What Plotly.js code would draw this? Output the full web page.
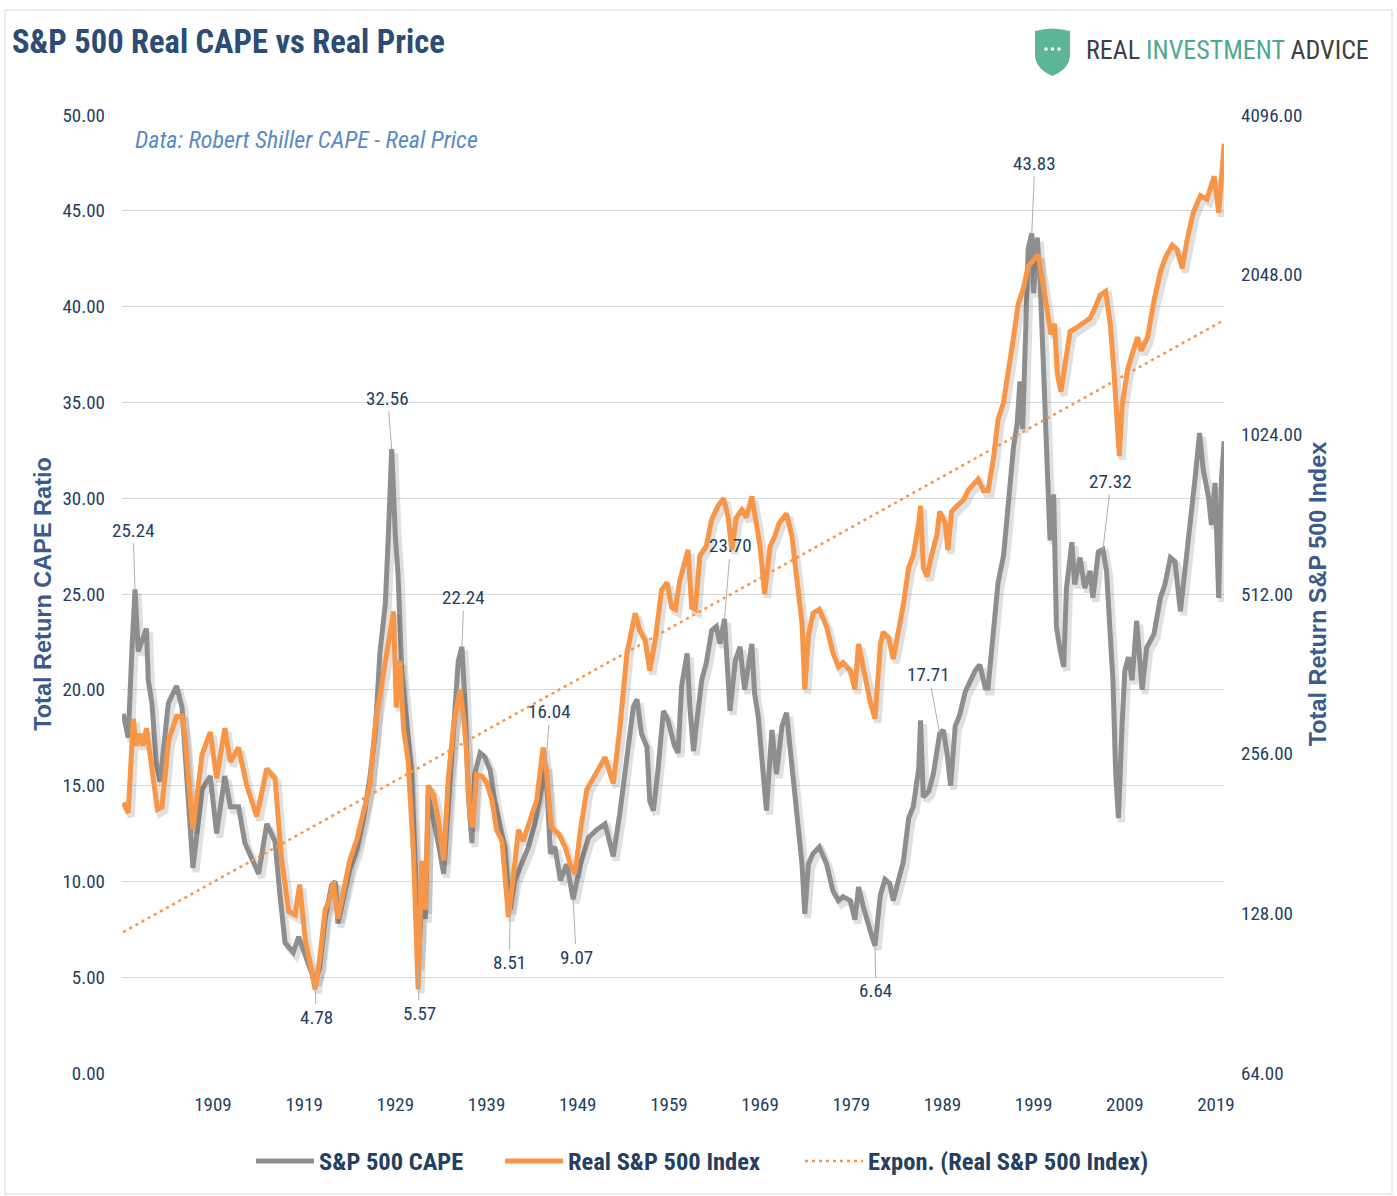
<!DOCTYPE html>
<html><head><meta charset="utf-8">
<script src="https://cdn.plot.ly/plotly-3.0.1.min.js"></script>
<style>html,body{margin:0;padding:0;background:#fff}#chart{width:1397px;height:1196px}</style>
</head><body><div id="chart"></div>
<script>
// ---- DATA ----
const capeYears = [1899.16,1899.7,1900.1,1900.45,1900.8,1901.2,1901.7,1901.9,1902.3,1902.8,1903.2,1904.1,1905.0,1905.6,1906.1,1906.8,1907.8,1908.7,1909.4,1910.3,1910.9,1911.8,1912.5,1914.0,1914.9,1915.8,1916.3,1916.9,1917.8,1918.4,1919.6,1920.2,1920.7,1921.3,1922.0,1922.4,1922.7,1923.3,1924.0,1924.8,1925.5,1926.2,1926.8,1927.3,1927.9,1928.2,1928.6,1929.0,1929.3,1929.7,1930.2,1930.8,1931.2,1931.5,1931.9,1932.3,1932.6,1933.2,1933.7,1934.3,1934.8,1935.4,1935.9,1936.3,1936.6,1937.0,1937.4,1937.7,1938.3,1938.8,1939.4,1939.9,1940.5,1941.0,1941.4,1941.6,1942.1,1942.9,1943.6,1944.3,1945.0,1945.5,1946.0,1946.5,1947.1,1947.8,1948.5,1949.3,1950.2,1951.1,1952.0,1952.9,1953.6,1954.4,1955.1,1955.5,1956.0,1956.6,1956.9,1957.3,1957.8,1958.4,1958.9,1959.6,1960.0,1960.4,1961.0,1961.3,1961.7,1962.0,1962.6,1963.1,1963.7,1964.2,1964.6,1965.1,1965.7,1966.3,1966.8,1967.3,1968.1,1968.4,1968.8,1969.4,1969.7,1970.3,1970.8,1971.4,1971.9,1972.5,1973.0,1973.6,1973.9,1974.3,1974.8,1975.5,1976.3,1977.0,1977.6,1978.1,1978.9,1979.4,1979.8,1980.3,1981.1,1981.6,1982.2,1982.7,1983.2,1983.6,1984.2,1984.7,1985.3,1985.8,1986.4,1986.6,1986.9,1987.5,1988.0,1988.7,1989.1,1989.5,1989.9,1990.4,1990.9,1991.5,1992.0,1992.6,1993.1,1993.7,1994.0,1994.6,1995.1,1995.7,1996.2,1996.8,1997.2,1997.5,1997.8,1998.1,1998.4,1998.8,1999.0,1999.4,1999.7,2000.1,2000.4,2000.8,2001.2,2001.5,2001.9,2002.3,2002.6,2003.2,2003.5,2004.1,2004.6,2005.2,2005.5,2006.1,2006.6,2007.0,2007.4,2007.7,2008.0,2008.3,2008.7,2009.0,2009.4,2009.8,2010.3,2010.9,2011.4,2012.2,2012.9,2013.4,2014.0,2014.5,2015.1,2015.6,2016.2,2016.7,2017.2,2017.6,2018.2,2018.5,2018.9,2019.3,2019.6,2019.9];
const capeValues = [18.75,17.5,22.0,25.24,22.0,22.5,23.2,20.5,19.3,16.1,15.2,19.3,20.2,19.1,15.2,10.7,14.8,15.5,12.5,15.5,13.9,13.9,12.0,10.4,13.0,12.1,9.5,6.8,6.3,7.1,5.5,4.78,5.5,8.05,9.8,10.0,7.8,9.1,10.6,11.7,13.25,15.4,17.8,21.9,24.5,27.7,32.56,28.0,26.0,21.0,18.4,15.6,10.6,5.57,9.1,8.05,14.5,13.25,12.0,10.4,14.1,18.4,21.5,22.24,19.7,14.5,12.0,15.6,16.7,16.5,15.8,14.2,12.8,11.8,9.4,8.51,10.05,10.9,11.8,13.0,14.8,16.04,11.45,11.8,10.05,10.9,9.07,10.9,12.3,12.7,13.0,11.3,13.5,16.7,19.1,19.5,17.7,17.0,14.2,13.7,15.8,18.9,18.4,17.1,16.7,20.2,21.9,19.1,16.8,18.1,20.5,21.4,23.1,23.3,22.4,23.7,18.9,21.55,22.25,20.0,22.4,19.8,18.6,15.3,13.7,17.9,15.6,18.1,18.8,16.0,13.5,10.9,8.3,10.9,11.45,11.8,10.9,9.5,9.0,9.2,9.0,8.0,9.7,8.7,7.4,6.64,9.3,10.1,9.9,9.0,10.1,11.0,13.3,13.9,15.9,18.4,14.4,14.7,15.6,17.71,17.9,16.7,15.0,18.1,18.7,19.9,20.4,21.0,21.3,20.1,20.1,23.3,25.6,27.0,29.6,32.7,33.9,36.1,33.6,39.6,43.0,43.83,40.7,43.6,41.5,36.6,32.1,27.8,30.2,23.3,22.1,21.2,25.3,27.7,25.5,26.9,25.3,26.2,24.8,27.2,27.32,26.2,22.9,20.5,15.7,13.3,18.1,21.0,21.7,20.5,23.6,20.0,22.2,22.9,24.8,25.5,26.9,26.7,24.1,26.2,28.6,31.0,33.4,31.5,30.0,28.6,30.8,24.8,31.0,32.97];

const priceYears = [1899.16,1899.7,1900.26,1900.6,1901.0,1901.3,1901.7,1902.1,1902.6,1902.9,1903.4,1904.1,1905.0,1905.6,1905.9,1906.8,1907.8,1908.7,1909.4,1910.3,1910.9,1911.8,1912.7,1913.8,1914.9,1915.8,1916.5,1917.3,1918.0,1918.5,1919.1,1919.6,1920.2,1920.7,1921.3,1921.8,1922.2,1922.7,1923.3,1924.0,1924.8,1925.5,1926.2,1926.8,1927.5,1928.1,1928.8,1929.1,1929.5,1929.9,1930.4,1931.0,1931.5,1931.9,1932.3,1932.6,1933.2,1933.7,1934.3,1934.8,1935.4,1936.1,1936.5,1936.8,1937.2,1937.5,1937.9,1938.5,1939.0,1939.6,1940.1,1940.7,1941.0,1941.4,1941.9,1942.5,1943.0,1943.8,1944.5,1945.2,1945.6,1946.1,1946.9,1947.6,1948.2,1948.7,1949.3,1950.0,1950.9,1952.0,1952.9,1953.6,1954.4,1955.3,1955.8,1956.4,1956.9,1957.5,1958.2,1958.8,1959.3,1959.7,1960.2,1960.8,1961.1,1961.5,1961.9,1962.4,1963.1,1963.7,1964.4,1965.0,1965.5,1965.9,1966.4,1967.0,1967.5,1968.1,1968.6,1969.0,1969.5,1970.1,1970.6,1971.1,1971.9,1972.5,1973.0,1973.6,1973.9,1974.3,1974.8,1975.5,1976.3,1977.0,1977.6,1978.1,1978.9,1979.4,1979.8,1980.3,1981.1,1981.6,1982.2,1982.5,1983.1,1983.6,1984.2,1984.7,1985.3,1985.8,1986.4,1986.6,1986.9,1987.3,1987.8,1988.4,1988.7,1989.3,1989.6,1990.0,1990.6,1991.3,1991.8,1992.4,1992.9,1993.5,1994.0,1994.6,1995.1,1995.7,1996.2,1996.8,1997.3,1997.9,1998.4,1999.0,1999.5,2000.1,2000.6,2000.9,2001.3,2001.6,2002.0,2002.4,2003.0,2003.7,2004.4,2005.2,2005.7,2006.3,2006.9,2007.4,2007.8,2008.2,2008.4,2008.7,2009.3,2009.8,2010.4,2010.8,2011.5,2012.2,2012.9,2013.4,2014.2,2014.7,2015.3,2015.8,2016.5,2017.3,2018.0,2018.8,2019.3,2019.7,2019.9];
const priceValues = [207,198,298,265,279,265,286,255,219,201,203,270,301,301,279,184,255,281,230,286,247,263,223,195,240,230,163,129,127,145,115,105,92,105,130,136,147,125,142,161,177,197,223,291,343,396,475,313,383,286,248,164,92,161,130,223,214,193,161,230,291,338,298,257,193,186,234,232,226,209,184,175,152,126,148,184,175,192,209,263,234,186,181,171,158,152,184,219,234,252,225,284,396,471,437,419,367,419,521,538,483,479,543,595,620,483,479,605,630,708,751,776,714,620,714,738,714,782,697,630,512,630,657,697,726,657,552,452,338,426,471,479,444,396,373,380,367,338,412,373,319,298,412,434,423,386,434,487,575,605,697,751,575,552,605,663,732,697,620,732,751,770,802,823,843,802,802,924,1091,1176,1322,1561,1798,1937,2123,2177,2232,1937,1725,1580,1654,1333,1232,1355,1600,1627,1654,1696,1768,1874,1905,1654,1355,1073,932,1157,1355,1448,1561,1472,1561,1828,2071,2195,2327,2288,2106,2366,2680,2888,2841,3139,2680,3272,3616];

// Exponential trend line of the real index: values at the first and last date
const trendValues = [118, 1682];

const xTickYears = [1909,1919,1929,1939,1949,1959,1969,1979,1989,1999,2009,2019];
const rightTickValues = [64,128,256,512,1024,2048,4096];

// Labelled CAPE extremes
const labelYears  = [1900.45,1928.6,1936.3,1945.5,1965.1,1998.8,2019.9,2006.6,1988.7,1981.6,1948.5,1941.6,1931.5,1920.2];
const labelValues = [25.24,32.56,22.24,16.04,23.70,43.83,32.97,27.32,17.71,6.64,9.07,8.51,5.57,4.78];

// ---- STYLE ----
const labelOffsets = [[-2,-59],[-4,-51],[2,-49],[4,-54],[6,-73],[3,-70],[-3,-69],[8,-68],[-11,-59],[1,45],[3,58],[-1,53],[1,47],[1,36]];
const NARROW = '"Liberation Sans Narrow", "Arial Narrow", "Roboto Condensed", sans-serif';
const NAVY = '#243F60';
const GRAY = '#8E8E8E';
const ORANGE = '#F79646';
const SHADOW = 'rgba(60,60,60,0.16)';

const L = 122, R = 173, T = 115, B = 123, W = 1397, H = 1196;
const PW = W - L - R, PH = H - T - B;
const px = x => (x - L) / PW;
const py = y => (H - B - y) / PH;
// soft drop-shadow offset (about 3 px right, 4 px down)
const dxYears = 3 * (2019.88 - 1899.02) / PW;
const dyCape = 4 * 50 / PH;
const dyPriceFactor = Math.pow(2, -4 * 6 / PH);

const traces = [
  {x: capeYears.map(v => v + dxYears), y: capeValues.map(v => v - dyCape), type: 'scatter', mode: 'lines',
   showlegend: false, hoverinfo: 'skip', line: {color: SHADOW, width: 7}, yaxis: 'y'},
  {x: capeYears, y: capeValues, type: 'scatter', mode: 'lines', name: 'S&P 500 CAPE', legend: 'legend',
   line: {color: GRAY, width: 5}, yaxis: 'y'},
  {x: priceYears.map(v => v + dxYears), y: priceValues.map(v => v * dyPriceFactor), type: 'scatter', mode: 'lines',
   showlegend: false, hoverinfo: 'skip', line: {color: SHADOW, width: 7}, yaxis: 'y2'},
  {x: priceYears, y: priceValues, type: 'scatter', mode: 'lines', name: 'Real S&P 500 Index', legend: 'legend2',
   line: {color: ORANGE, width: 5}, yaxis: 'y2'},
  {x: [priceYears[0], priceYears[priceYears.length - 1]], y: trendValues, type: 'scatter', mode: 'lines',
   name: 'Expon. (Real S&P 500 Index)', legend: 'legend3', line: {color: ORANGE, width: 2.5, dash: '3px,4px'}, yaxis: 'y2'}
];

const annotations = labelYears.map((yr, i) => ({
  x: yr, y: labelValues[i], xref: 'x', yref: 'y',
  text: labelValues[i].toFixed(2), showarrow: true, arrowhead: 0, arrowwidth: 1,
  arrowcolor: '#B0B0B0', ax: labelOffsets[i][0], ay: labelOffsets[i][1], standoff: 0,
  font: {family: NARROW, size: 19, color: NAVY}
}));
annotations.push({
  xref: 'paper', yref: 'paper', x: px(133), y: py(140), xanchor: 'left', yanchor: 'middle',
  text: '<i>Data: Robert Shiller CAPE - Real Price</i>', showarrow: false,
  font: {family: NARROW, size: 24, color: '#5A8AC6'}
});
annotations.push({
  xref: 'paper', yref: 'paper', x: px(1084), y: py(50), xanchor: 'left', yanchor: 'middle',
  text: 'REAL <span style="color:#4DAA8E">INVESTMENT</span> ADVICE', showarrow: false,
  font: {family: NARROW, size: 26, color: '#404040'}
});

const shapes = [
  {type: 'rect', xref: 'paper', yref: 'paper', x0: px(5), x1: px(1392), y0: py(1194), y1: py(10),
   line: {color: '#D9D9D9', width: 1}, fillcolor: 'rgba(0,0,0,0)', layer: 'below'},
  {type: 'path', xref: 'paper', yref: 'paper',
   path: `M ${px(1035)},${py(31)} Q ${px(1052.5)},${py(26)} ${px(1070)},${py(31)} L ${px(1070)},${py(56)} Q ${px(1069)},${py(69)} ${px(1052.5)},${py(76)} Q ${px(1036)},${py(69)} ${px(1035)},${py(56)} Z`,
   fillcolor: '#5DB796', line: {width: 0}}
];
[1046, 1052.5, 1059].forEach(cx => shapes.push({type: 'circle', xref: 'paper', yref: 'paper',
  x0: px(cx - 1.8), x1: px(cx + 1.8), y0: py(49 + 1.8), y1: py(49 - 1.8), fillcolor: '#FFFFFF', line: {width: 0}}));

const axisTitleFont = {family: '"Liberation Sans", Arial, sans-serif', size: 23.5, color: '#3A5B8C', weight: 'bold'};
const legendBase = {orientation: 'h', xanchor: 'left', y: py(1161), yanchor: 'middle',
  font: {family: NARROW, size: 24.5, color: NAVY, weight: 'bold'}, itemwidth: 58, bgcolor: 'rgba(0,0,0,0)'};

const layout = {
  width: W, height: H,
  margin: {l: L, r: R, t: T, b: B},
  paper_bgcolor: '#FFFFFF', plot_bgcolor: '#FFFFFF',
  showlegend: true,
  hovermode: false,
  title: {text: 'S&P 500 Real CAPE vs Real Price', x: 12 / W, xanchor: 'left', xref: 'container',
          y: 1 - 42 / H, yanchor: 'middle', yref: 'container',
          font: {family: NARROW, size: 32.5, color: '#2B4C74', weight: 'bold'}},
  xaxis: {range: [1899.02, 2019.88], tickvals: xTickYears, ticktext: xTickYears.map(String),
          showgrid: false, zeroline: false, showline: false, ticks: '', ticklabelstandoff: 18,
          tickfont: {family: NARROW, size: 19, color: NAVY}},
  yaxis: {range: [0, 50], dtick: 5, tick0: 0, tickformat: '.2f', showgrid: true, gridcolor: '#D9D9D9', gridwidth: 1,
          zeroline: false, showline: false, ticks: '', ticklabelstandoff: 16,
          tickfont: {family: NARROW, size: 19, color: NAVY},
          title: {text: 'Total Return CAPE Ratio', standoff: 4, font: axisTitleFont}},
  yaxis2: {overlaying: 'y', side: 'right', type: 'log', range: [Math.log10(64), Math.log10(4096)],
           tickvals: rightTickValues, ticktext: rightTickValues.map(v => v.toFixed(2)),
           showgrid: false, zeroline: false, showline: false, ticks: '', ticklabelstandoff: 16,
           tickfont: {family: NARROW, size: 19, color: NAVY},
           title: {text: 'Total Return S&P 500 Index', standoff: 8, font: axisTitleFont}},
  legend: Object.assign({}, legendBase, {x: px(251)}),
  legend2: Object.assign({}, legendBase, {x: px(500)}),
  legend3: Object.assign({}, legendBase, {x: px(800)}),
  annotations: annotations,
  shapes: shapes
};

Plotly.newPlot('chart', traces, layout, {displayModeBar: false, staticPlot: true});
</script>
</body></html>
